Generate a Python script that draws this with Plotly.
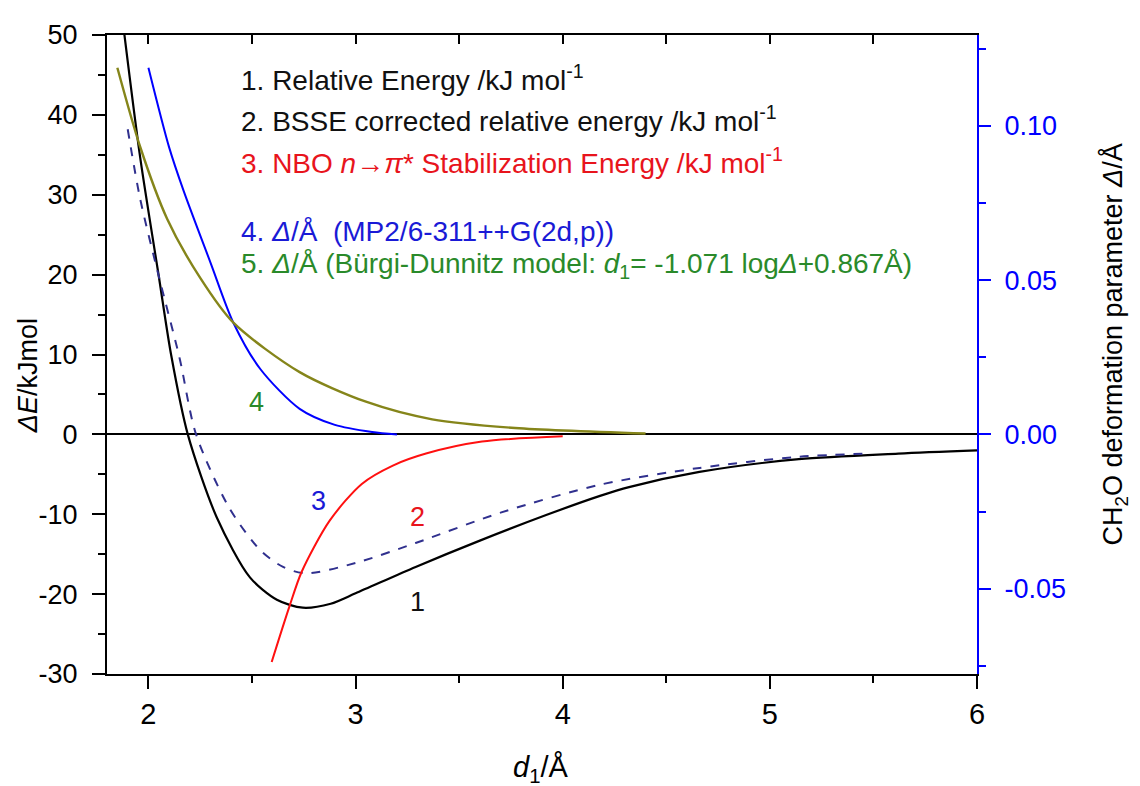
import plotly.graph_objects as go

# ---- data ----
x_rel = [1.87, 1.96, 2.05, 2.11, 2.19, 2.33, 2.49, 2.62, 2.745, 2.88, 3.0, 3.29, 3.6, 3.92, 4.18, 4.32, 4.66, 5.14, 5.62, 6.0]
y_rel = [53.0, 34.7, 19.8, 9.9, 0.0, -10.4, -17.9, -20.7, -21.7, -21.2, -19.9, -16.6, -13.3, -10.1, -7.7, -6.6, -4.7, -3.1, -2.4, -2.0]

x_bsse = [1.9, 1.96, 2.05, 2.15, 2.23, 2.39, 2.54, 2.65, 2.76, 3.0, 3.29, 3.7, 4.18, 4.66, 5.14, 5.49]
y_bsse = [38.2, 29.5, 19.8, 9.6, 0.0, -9.2, -14.5, -16.6, -17.4, -16.1, -13.6, -9.8, -6.3, -4.2, -2.8, -2.4]

x_nbo = [2.595, 2.68, 2.74, 2.875, 3.03, 3.18, 3.34, 3.61, 4.0]
y_nbo = [-28.5, -21.6, -17.2, -10.8, -6.2, -3.9, -2.4, -0.9, -0.25]

x_mp2 = [2.0, 2.1, 2.17, 2.30, 2.41, 2.54, 2.73, 2.9, 3.08, 3.2]
d_mp2 = [0.1188, 0.0930, 0.0789, 0.0556, 0.0362, 0.0212, 0.0083, 0.0031, 0.0008, 0.0]

x_bd = [1.85, 1.96, 2.09, 2.25, 2.41, 2.73, 3.05, 3.37, 3.77, 4.4]
d_bd = [0.1188, 0.0932, 0.0699, 0.0507, 0.0362, 0.0202, 0.0106, 0.0049, 0.0021, 0.0003]

y_tickvals = [-30, -20, -10, 0, 10, 20, 30, 40, 50]
y_ticktext = ["-30", "-20", "-10", "0", "10", "20", "30", "40", "50"]
y2_tickvals = [-0.05, 0.0, 0.05, 0.10]
y2_ticktext = ["-0.05", "0.00", "0.05", "0.10"]
x_tickvals = [2, 3, 4, 5, 6]
x_ticktext = ["2", "3", "4", "5", "6"]

legend_lines = [
    "1. Relative Energy /kJ mol<sup>-1</sup>",
    "2. BSSE corrected relative energy /kJ mol<sup>-1</sup>",
    "3. NBO <i>n</i>\u2192<i>\u03c0</i>* Stabilization Energy /kJ mol<sup>-1</sup>",
    "4. <i>\u0394</i>/\u00c5  (MP2/6-311++G(2d,p))",
    "5. <i>\u0394</i>/\u00c5 (B\u00fcrgi-Dunnitz model: <i>d</i><sub>1</sub>= -1.071 log<i>\u0394</i>+0.867\u00c5)",
]
legend_colors = ["#111111", "#111111", "#e8141c", "#1a1ad6", "#2a8a2a"]
legend_y = [0.933, 0.868, 0.803, 0.693, 0.640]

curve_labels = ["4", "3", "2", "1"]
curve_label_x = [2.52, 2.82, 3.30, 3.30]
curve_label_y = [4.1, -8.3, -10.4, -21.0]
curve_label_colors = ["#2a8a2a", "#1a1ad6", "#e8141c", "#111111"]

Y_RANGE = [-30, 50]
Y2_RANGE = [-0.0776, 0.1294]
X_RANGE = [1.8, 6.0]

REG = "Liberation Sans, Arial, sans-serif"
NARROW = "Liberation Sans Narrow, Arial Narrow, Liberation Sans, Arial, sans-serif"

fig = go.Figure()
fig.add_trace(go.Scatter(x=x_rel, y=y_rel, mode="lines", line=dict(color="black", width=2.2, shape="spline", smoothing=0.8), showlegend=False))
fig.add_trace(go.Scatter(x=x_bsse, y=y_bsse, mode="lines", line=dict(color="#30308e", width=2, dash="dash", shape="spline", smoothing=0.8), showlegend=False))
fig.add_trace(go.Scatter(x=x_nbo, y=y_nbo, mode="lines", line=dict(color="#ff1010", width=2, shape="spline", smoothing=0.8), showlegend=False))
fig.add_trace(go.Scatter(x=x_mp2, y=d_mp2, yaxis="y2", mode="lines", line=dict(color="#0000ff", width=2, shape="spline", smoothing=0.8), showlegend=False))
fig.add_trace(go.Scatter(x=x_bd, y=d_bd, yaxis="y2", mode="lines", line=dict(color="#85851a", width=2.4, shape="spline", smoothing=0.8), showlegend=False))
fig.add_trace(go.Scatter(x=[], y=[], xaxis="x2", showlegend=False))

annotations = []
for txt, col, yy in zip(legend_lines, legend_colors, legend_y):
    annotations.append(dict(text=txt, x=0.152, y=yy, xref="paper", yref="paper", xanchor="left", yanchor="middle",
                            showarrow=False, font=dict(family=REG, size=28, color=col)))
for t, lx, ly, col in zip(curve_labels, curve_label_x, curve_label_y, curve_label_colors):
    annotations.append(dict(text=t, x=lx, y=ly, xref="x", yref="y", showarrow=False,
                            font=dict(family=REG, size=27, color=col)))
# axis titles
annotations.append(dict(text="<i>\u0394E</i>/kJmol", x=-0.0908, y=0.466, xref="paper", yref="paper",
                        xanchor="center", yanchor="middle", showarrow=False, textangle=-90,
                        font=dict(family=NARROW, size=27, color="black")))
annotations.append(dict(text="CH<sub>2</sub>O deformation parameter <i>\u0394</i>/\u00c5", x=1.1586, y=0.5155,
                        xref="paper", yref="paper", xanchor="center", yanchor="middle", showarrow=False,
                        textangle=-90, font=dict(family=NARROW, size=27, color="black")))
annotations.append(dict(text="<i>d</i><sub>1</sub>/\u00c5", x=0.498, y=-0.149, xref="paper", yref="paper",
                        xanchor="center", yanchor="middle", showarrow=False,
                        font=dict(family=NARROW, size=29, color="black")))

fig.update_layout(
    width=1140, height=786,
    # the page body adds an 8px offset; margins compensate so the plot lands where the reference has it
    margin=dict(l=99, r=171, t=22, b=120),
    paper_bgcolor="white", plot_bgcolor="white",
    xaxis=dict(range=X_RANGE, tickvals=x_tickvals, ticktext=x_ticktext, ticks="outside", ticklen=13, tickwidth=2,
               tickcolor="black", ticklabelstandoff=0,
               showline=True, linecolor="black", linewidth=2, showgrid=False, zeroline=False,
               tickfont=dict(family=NARROW, size=29, color="black"),
               minor=dict(dtick=0.5, tick0=2, ticks="outside", ticklen=7, tickwidth=1.5, tickcolor="black")),
    xaxis2=dict(range=X_RANGE, overlaying="x", side="top", dtick=0.5, tick0=2, ticks="inside", ticklen=9,
                tickwidth=1.5, tickcolor="black", showticklabels=False, showline=True, linecolor="black",
                linewidth=2, showgrid=False, zeroline=False),
    yaxis=dict(range=Y_RANGE, tickvals=y_tickvals, ticktext=y_ticktext, ticks="outside", ticklen=13, tickwidth=2,
               tickcolor="black", ticklabelstandoff=9,
               showline=True, linecolor="black", linewidth=2, showgrid=False,
               zeroline=True, zerolinecolor="black", zerolinewidth=2,
               tickfont=dict(family=REG, size=27, color="black"),
               minor=dict(dtick=5, tick0=0, ticks="outside", ticklen=7, tickwidth=1.5, tickcolor="black")),
    yaxis2=dict(range=Y2_RANGE, overlaying="y", side="right", tickvals=y2_tickvals, ticktext=y2_ticktext,
                ticks="outside", ticklen=12, tickwidth=2, tickcolor="#0000ff", ticklabelstandoff=8,
                showline=True, linecolor="#0000ff", linewidth=2, showgrid=False, zeroline=False,
                tickfont=dict(family=REG, size=27, color="#0000ff"),
                minor=dict(dtick=0.025, tick0=0, ticks="outside", ticklen=7, tickwidth=1.5, tickcolor="#0000ff")),
    annotations=annotations,
)

fig.write_html("out.html")
